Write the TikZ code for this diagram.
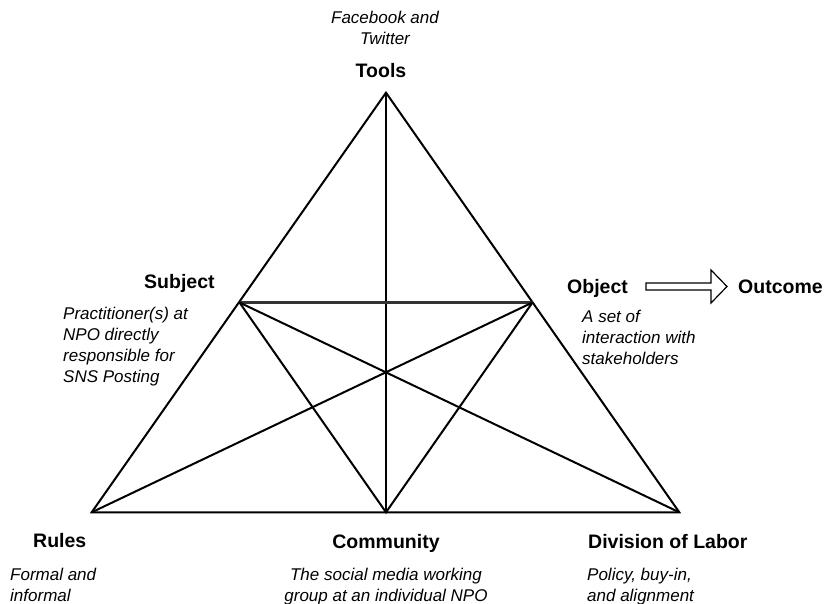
\documentclass[tikz,border=0pt]{standalone}
\usepackage{fontspec}
\setmainfont{Liberation Sans}
\begin{document}
\begin{tikzpicture}[x=1pt,y=-1pt,
  edge/.style={line width=2pt,line join=miter},
  head/.style={font=\fontsize{19.5}{23}\selectfont\bfseries,inner sep=0pt},
  note/.style={font=\fontsize{17}{21}\selectfont\itshape,inner sep=0pt},
  hollow/.style={draw=black,line width=1.2pt,fill=white,line join=miter}]
\useasboundingbox (0,0) rectangle (827,604);
% corners of the triangle and the points of its inner lines
\coordinate (tools) at (386,92.7);
\coordinate (rules) at (91.7,512.3);
\coordinate (labor) at (679.3,512.3);
\coordinate (subj) at (239.5,302.5);
\coordinate (obj) at (532.5,302.5);
\coordinate (comm) at (386,512.3);
% outer triangle
\draw[edge] (tools) -- (rules) -- (labor) -- cycle;
% inner lines
\draw[edge] (tools) -- (comm);
\draw[edge,line width=2.4pt,black!80] (subj) -- (obj);
\draw[edge] (subj) -- (labor);
\draw[edge] (obj) -- (rules);
\draw[edge] (subj) -- (comm) -- (obj);
% labels (multi-line notes are placed by the baseline of their last line)
\node[note,align=center,anchor=base] (toolsnote) at (385,45) {Facebook and\\Twitter};
\node[head,anchor=base] (toolslbl) at (381,78) {Tools};
\node[head,anchor=base west] (subjlbl) at (144,288) {Subject};
\node[note,align=left,anchor=base west] (subjnote) at (63,382) {Practitioner(s) at\\NPO directly\\responsible for\\SNS Posting};
\node[head,anchor=base west] (objlbl) at (567,293) {Object};
\node[note,align=left,anchor=base west] (objnote) at (582,364) {A set of\\interaction with\\stakeholders};
\node[head,anchor=base west] (outlbl) at (738,293) {Outcome};
\node[head,anchor=base west] (ruleslbl) at (33,547) {Rules};
\node[note,align=left,anchor=base west] (rulesnote) at (10,601) {Formal and\\informal};
\node[head,anchor=base] (commlbl) at (386,548) {Community};
\node[note,align=center,anchor=base] (commnote) at (386,601) {The social media working\\group at an individual NPO};
\node[head,anchor=base west] (laborlbl) at (588,548) {Division of Labor};
\node[note,align=left,anchor=base west] (labornote) at (587,601) {Policy, buy-in,\\and alignment};
% hollow block arrow from Object to Outcome
\draw[hollow] (646,283) -- (711,283) -- (711,270) -- (727,286.5) -- (711,303) -- (711,290) -- (646,290) -- cycle;
\end{tikzpicture}
\end{document}
